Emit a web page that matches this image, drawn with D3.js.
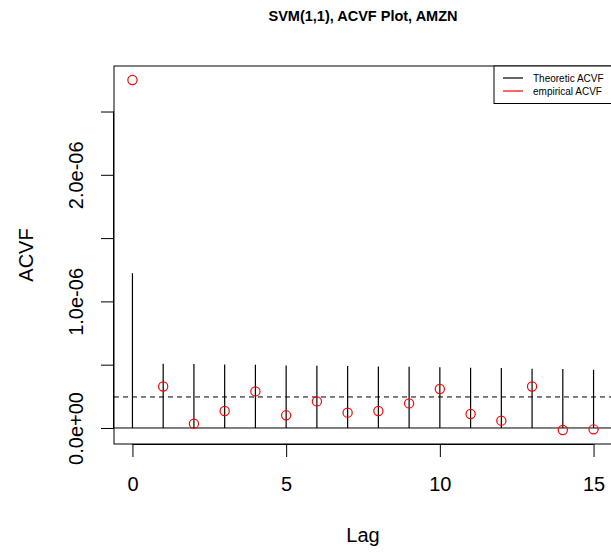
<!DOCTYPE html>
<html>
<head>
<meta charset="utf-8">
<script src="https://cdn.jsdelivr.net/npm/d3@7"></script>
<style>
  html, body { margin: 0; padding: 0; background: #fff; }
  svg { display: block; font-family: "Liberation Sans", Arial, Helvetica, sans-serif; }
</style>
</head>
<body>
<svg id="chart" width="611" height="554"></svg>
<script>
// Lags shown on the x axis
const lags = [0, 1, 2, 3, 4, 5, 6, 7, 8, 9, 10, 11, 12, 13, 14, 15];
// Theoretical autocovariance of the SVM(1,1) model (vertical spikes)
const theoreticAcvf = [1.223e-6, 0.507e-6, 0.505e-6, 0.502e-6, 0.500e-6, 0.494e-6, 0.492e-6, 0.489e-6,
                       0.486e-6, 0.484e-6, 0.479e-6, 0.476e-6, 0.473e-6, 0.468e-6, 0.465e-6, 0.460e-6];
// Sample autocovariance of the AMZN series (red circles)
const empiricalAcvf = [2.749e-6, 0.328e-6, 0.034e-6, 0.134e-6, 0.289e-6, 0.100e-6, 0.210e-6, 0.121e-6,
                       0.134e-6, 0.194e-6, 0.308e-6, 0.110e-6, 0.058e-6, 0.328e-6, -0.016e-6, -0.011e-6];
// Reference level drawn as the dashed horizontal line
const referenceLevel = 0.245e-6;
// Axis ticks
const xTicks = [0, 5, 10, 15];
const yTicks = [0, 0.5e-6, 1.0e-6, 1.5e-6, 2.0e-6, 2.5e-6];
const yTickLabels = ["0.0e+00", "", "1.0e-06", "", "2.0e-06", ""];
const legendLabels = ["Theoretic ACVF", "empirical ACVF"];
const legendColors = ["#000000", "#ff0000"];

const box = { left: 114, right: 612, top: 66, bottom: 444 };
const svg = d3.select("#chart");

// R-style 4% axis padding
function padded(lo, hi) { const d = (hi - lo) * 0.04; return [lo - d, hi + d]; }
const xExt = d3.extent(lags);
const yExt = d3.extent(theoreticAcvf.concat(empiricalAcvf, [0]));

const x = d3.scaleLinear().domain(padded(xExt[0], xExt[1])).range([box.left, box.right]);
const y = d3.scaleLinear().domain(padded(yExt[0], yExt[1])).range([box.bottom, box.top]);

const ink = "#000";

// Clip marks to the plotting region
svg.append("clipPath").attr("id", "plotclip")
  .append("rect").attr("x", box.left).attr("y", box.top)
  .attr("width", box.right - box.left).attr("height", box.bottom - box.top);
const plot = svg.append("g").attr("clip-path", "url(#plotclip)");

// zero line
plot.append("line")
  .attr("x1", box.left).attr("x2", box.right)
  .attr("y1", y(0)).attr("y2", y(0))
  .attr("stroke", ink).attr("stroke-width", 1);

// dashed reference line
plot.append("line")
  .attr("x1", box.left).attr("x2", box.right)
  .attr("y1", y(referenceLevel)).attr("y2", y(referenceLevel))
  .attr("stroke", ink).attr("stroke-width", 1)
  .attr("stroke-dasharray", "5,4");

// theoretical spikes
plot.selectAll("line.spike").data(lags).enter().append("line")
  .attr("class", "spike")
  .attr("x1", d => x(d)).attr("x2", d => x(d))
  .attr("y1", y(0)).attr("y2", (d, i) => y(theoreticAcvf[i]))
  .attr("stroke", ink).attr("stroke-width", 1.2);

// empirical points
plot.selectAll("circle.emp").data(lags).enter().append("circle")
  .attr("class", "emp")
  .attr("cx", d => x(d)).attr("cy", (d, i) => y(empiricalAcvf[i]))
  .attr("r", 4.6)
  .attr("fill", "none").attr("stroke", "#ff0000").attr("stroke-width", 1.2);

// plot box
svg.append("rect")
  .attr("x", box.left).attr("y", box.top)
  .attr("width", box.right - box.left).attr("height", box.bottom - box.top)
  .attr("fill", "none").attr("stroke", ink).attr("stroke-width", 1);

// x axis
const xAxis = d3.axisBottom(x).tickValues(xTicks).tickSize(13).tickPadding(20).tickFormat(d3.format("d"));
const gx = svg.append("g").attr("transform", `translate(0,${box.bottom})`).call(xAxis);
gx.select(".domain").attr("d", `M${x(xTicks[0])},0.5H${x(xTicks[xTicks.length - 1])}`).attr("stroke", ink);
gx.selectAll(".tick line").attr("stroke", ink);
gx.selectAll("text").attr("font-size", 20).attr("fill", "#000").attr("font-family", "Liberation Sans, Arial, sans-serif");

// y axis
const yAxis = d3.axisLeft(y).tickValues(yTicks).tickSize(13).tickFormat((d, i) => yTickLabels[i]);
const gy = svg.append("g").attr("transform", `translate(${box.left},0)`).call(yAxis);
gy.select(".domain").attr("d", `M-0.5,${y(yTicks[0])}V${y(yTicks[yTicks.length - 1])}`).attr("stroke", ink);
gy.selectAll(".tick line").attr("stroke", ink);
gy.selectAll(".tick text")
  .attr("font-size", 20).attr("fill", "#000").attr("font-family", "Liberation Sans, Arial, sans-serif")
  .attr("x", null).attr("dy", null)
  .attr("text-anchor", "middle")
  .attr("transform", "translate(-31,0) rotate(-90)");

// axis titles
svg.append("text")
  .attr("x", (box.left + box.right) / 2).attr("y", 542)
  .attr("text-anchor", "middle").attr("font-size", 20).attr("fill", "#000")
  .text("Lag");
svg.append("text")
  .attr("transform", `translate(32.5,${(box.top + box.bottom) / 2}) rotate(-90)`)
  .attr("text-anchor", "middle").attr("font-size", 20).attr("fill", "#000")
  .text("ACVF");

// title
svg.append("text")
  .attr("x", (box.left + box.right) / 2).attr("y", 20.5)
  .attr("text-anchor", "middle").attr("font-size", 14.5).attr("font-weight", "bold").attr("fill", "#000")
  .text("SVM(1,1), ACVF Plot, AMZN");

// legend
const lg = svg.append("g");
lg.append("rect")
  .attr("x", 494).attr("y", box.top)
  .attr("width", box.right - 494).attr("height", 37.5)
  .attr("fill", "#fff").attr("stroke", ink).attr("stroke-width", 1);
legendLabels.forEach((label, i) => {
  const cy = box.top + 12 + i * 13;
  lg.append("line")
    .attr("x1", 503).attr("x2", 523).attr("y1", cy).attr("y2", cy)
    .attr("stroke", legendColors[i]).attr("stroke-width", 1.2);
  lg.append("text")
    .attr("x", 533).attr("y", cy + 3.5)
    .attr("font-size", 10).attr("fill", "#000")
    .text(label);
});
</script>
</body>
</html>
